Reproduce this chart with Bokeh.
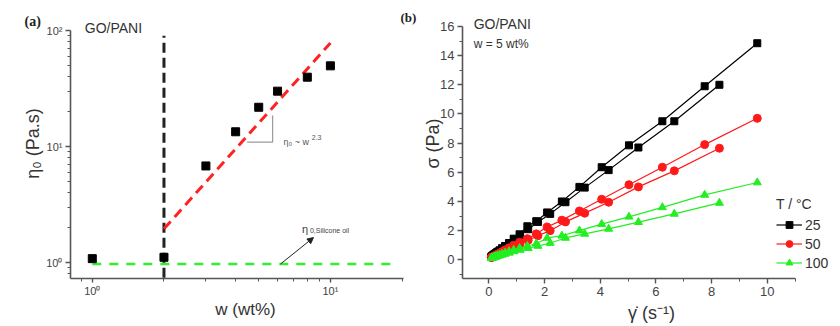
from bokeh.plotting import figure
from bokeh.layouts import row
from bokeh.models import FixedTicker, Label, Arrow, NormalHead, Legend, LegendItem, Title
from bokeh.embed import file_html
from bokeh.resources import INLINE

# ---------------- data: panel (a) ----------------
w_pct = [1, 2, 3, 4, 5, 6, 8, 10]
eta0 = [1.08, 1.11, 6.8, 13.4, 21.8, 30.0, 39.6, 49.6]
fit_w = [2, 10]
fit_eta = [1.95, 78.0]
crit_w = [2, 2]
crit_eta = [0.74, 90.0]
oil_w = [1, 18.8]
oil_eta = [0.97, 0.97]
slope_w = [4.47, 5.72, 5.72]
slope_eta = [10.9, 10.9, 18.5]
log_x_ticks = [1, 10]
log_y_ticks = [1, 10, 100]
log_tick_labels = {1: "10\u2070", 10: "10\u00b9", 100: "10\u00b2"}

# ---------------- data: panel (b) ----------------
rate_up = [9.64, 7.75, 6.23, 5.03, 4.05, 3.25, 2.62, 2.09, 1.70, 1.38, 1.10, 0.89,
           0.72, 0.58, 0.47, 0.38, 0.30, 0.24, 0.19, 0.15, 0.12, 0.10, 0.08]
rate_dn = [8.28, 6.66, 5.37, 4.30, 3.44, 2.75, 2.20, 1.76, 1.41, 1.12, 0.90, 0.73,
           0.58, 0.47, 0.38, 0.30, 0.24, 0.19, 0.15, 0.12, 0.10]
s25_up = [14.85, 11.9, 9.5, 7.85, 6.35, 5.0, 4.0, 3.25, 2.65, 2.3, 1.75, 1.45,
          1.15, 0.95, 0.8, 0.65, 0.55, 0.45, 0.38, 0.32, 0.27, 0.23, 0.2]
s25_dn = [12.0, 9.5, 7.7, 6.15, 4.95, 3.95, 3.15, 2.6, 2.1, 1.7, 1.4, 1.12,
          0.92, 0.75, 0.62, 0.5, 0.42, 0.35, 0.3, 0.25, 0.22]
s50_up = [9.7, 7.9, 6.35, 5.15, 4.15, 3.35, 2.72, 2.25, 1.78, 1.45, 1.2, 1.0,
          0.82, 0.68, 0.56, 0.46, 0.38, 0.32, 0.27, 0.23, 0.2, 0.18, 0.16]
s50_dn = [7.65, 6.1, 5.0, 3.95, 3.2, 2.6, 2.0, 1.65, 1.35, 1.1, 0.9, 0.75,
          0.62, 0.5, 0.42, 0.35, 0.3, 0.25, 0.22, 0.19, 0.17]
s100_up = [5.3, 4.45, 3.6, 2.95, 2.45, 2.0, 1.65, 1.5, 1.1, 0.95, 0.8, 0.68,
           0.58, 0.48, 0.4, 0.34, 0.28, 0.24, 0.2, 0.17, 0.15, 0.13, 0.11]
s100_dn = [3.9, 3.15, 2.58, 2.12, 1.78, 1.5, 1.15, 0.95, 0.8, 0.68, 0.58, 0.48,
           0.4, 0.34, 0.28, 0.24, 0.2, 0.17, 0.15, 0.13, 0.11]
temps = ["25", "50", "100"]
b_x_ticks = [0, 2, 4, 6, 8, 10]
b_y_ticks = [0, 2, 4, 6, 8, 10, 12, 14, 16]

FONT = "Liberation Sans"
AX = "#555555"
TXT = "#333333"


def style_axes(p, tick_size):
    p.xgrid.visible = False
    p.ygrid.visible = False
    p.outline_line_color = None
    for ax in p.axis:
        ax.axis_line_color = AX
        ax.axis_line_width = 1.6
        ax.major_tick_line_color = AX
        ax.minor_tick_line_color = AX
        ax.major_tick_line_width = 1.4
        ax.major_tick_out = 5
        ax.major_tick_in = 0
        ax.minor_tick_out = 3
        ax.minor_tick_in = 0
        ax.major_label_text_font = FONT
        ax.major_label_text_font_size = tick_size
        ax.major_label_text_color = "#444444"
        ax.axis_label_text_font = FONT
        ax.axis_label_text_font_size = "18px"
        ax.axis_label_text_font_style = "normal"
        ax.axis_label_text_color = TXT
        ax.axis_label_standoff = 0


# ================= panel (a) =================
p1 = figure(width=420, height=326, x_axis_type="log", y_axis_type="log",
            x_range=(0.81, 23.9), y_range=(0.728, 154.8),
            output_backend="svg", toolbar_location=None,
            min_border_left=70, min_border_right=0, min_border_top=8, min_border_bottom=48)
style_axes(p1, "11px")
p1.xaxis.bounds = (0.81, 20.3)
p1.yaxis.bounds = (0.728, 100)
p1.xaxis.ticker = FixedTicker(ticks=log_x_ticks,
                              minor_ticks=[0.9, 2, 3, 4, 5, 6, 7, 8, 9, 20])
p1.yaxis.ticker = FixedTicker(ticks=log_y_ticks,
                              minor_ticks=[0.8, 0.9, 2, 3, 4, 5, 6, 7, 8, 9,
                                           20, 30, 40, 50, 60, 70, 80, 90])
p1.xaxis.major_label_overrides = log_tick_labels
p1.yaxis.major_label_overrides = log_tick_labels
p1.xaxis.axis_label = "w (wt%)"
p1.yaxis.axis_label = "\u03b7\u2080 (Pa.s)"
p1.xaxis.major_tick_out = 4
p1.xaxis.major_label_standoff = 2
p1.xaxis.axis_label_text_font_size = "17px"
p1.yaxis.major_label_standoff = 3

p1.line(oil_w, oil_eta, line_color="#33ee33", line_width=2.5, line_dash="9 8")
p1.line(crit_w, crit_eta, line_color="#222222", line_width=3, line_dash="10 5")
p1.line(fit_w, fit_eta, line_color="#ff2222", line_width=3, line_dash="10 6")
p1.line(slope_w, slope_eta, line_color="#999999", line_width=1.2)
p1.scatter(w_pct, eta0, marker="square", size=8, fill_color="black", line_color="black")

p1.add_layout(Arrow(end=NormalHead(size=6, fill_color="#222222", line_color="#222222"),
                    x_start=6.17, y_start=0.97, x_end=8.49, y_end=1.64,
                    line_color="#222222", line_width=1))

p1.add_layout(Label(x=6.35, y=10.9, text="\u03b7\u2080 ~ w", text_font=FONT,
                    text_font_size="9px", text_color="#555555", text_baseline="middle"))
p1.add_layout(Label(x=8.35, y=11.9, text="2.3", text_font=FONT,
                    text_font_size="7px", text_color="#555555", text_baseline="middle"))
p1.add_layout(Label(x=7.6, y=1.95, text="\u03b7", text_font=FONT,
                    text_font_size="11px", text_color="#444444", text_baseline="middle"))
p1.add_layout(Label(x=8.2, y=1.87, text="0,Silicone oil", text_font=FONT,
                    text_font_size="7px", text_color="#444444", text_baseline="middle"))
p1.add_layout(Label(x=0.93, y=106, text="GO/PANI", text_font=FONT,
                    text_font_size="14px", text_color=TXT, text_baseline="middle"))
p1.add_layout(Label(x=19.7, y=129, text="(b)", text_font="Liberation Serif",
                    text_font_size="13px", text_font_style="bold", text_color="#222222",
                    text_baseline="middle"))
p1.add_layout(Title(text="(a)", align="left", offset=-46, standoff=-40,
                    text_font="Liberation Serif", text_font_size="14px",
                    text_font_style="bold", text_color="#222222"), "above")

# ================= panel (b) =================
p2 = figure(width=420, height=326, x_range=(-0.95, 12.63), y_range=(-1.28, 17.23),
            output_backend="svg", toolbar_location=None,
            min_border_left=42, min_border_right=0, min_border_top=8, min_border_bottom=48)
style_axes(p2, "13px")
p2.xaxis.bounds = (-0.95, 11)
p2.yaxis.bounds = (-1.28, 16)
p2.xaxis.ticker = FixedTicker(ticks=b_x_ticks, minor_ticks=[1, 3, 5, 7, 9, 11])
p2.yaxis.ticker = FixedTicker(ticks=b_y_ticks,
                              minor_ticks=[-1, 1, 3, 5, 7, 9, 11, 13, 15])
p2.xaxis.axis_label = "\u03b3\u0307 (s\u207b\u00b9)"
p2.yaxis.axis_label = "\u03c3 (Pa)"
p2.xaxis.major_label_standoff = 3
p2.yaxis.major_label_standoff = 3
p2.xaxis.axis_label_standoff = 4
p2.yaxis.axis_label_standoff = -6

series = [
    (s25_up, s25_dn, "black", "square", 7),
    (s50_up, s50_dn, "#ff1a1a", "circle", 8),
    (s100_up, s100_dn, "#22ee22", "triangle", 8),
]
items = []
for (up, dn, col, mk, sz), lab in zip(series, temps):
    l1 = p2.line(rate_up, up, line_color=col, line_width=1.2)
    m1 = p2.scatter(rate_up, up, marker=mk, size=sz, fill_color=col, line_color=col)
    p2.line(rate_dn, dn, line_color=col, line_width=1.2)
    p2.scatter(rate_dn, dn, marker=mk, size=sz, fill_color=col, line_color=col)
    items.append(LegendItem(label=lab, renderers=[l1, m1]))

legend = Legend(items=items, location=(314, 7), title="T / \u00b0C",
                background_fill_alpha=0, border_line_color=None,
                label_text_font=FONT, label_text_font_size="14px", label_text_color=TXT,
                title_text_font=FONT, title_text_font_size="14px", title_text_color=TXT,
                title_text_font_style="normal",
                glyph_width=26, glyph_height=17, label_height=17, spacing=2,
                padding=0, margin=0, label_standoff=3, title_standoff=4)
p2.add_layout(legend, "center")

p2.add_layout(Label(x=-0.55, y=16.15, text="GO/PANI", text_font=FONT,
                    text_font_size="14px", text_color=TXT, text_baseline="middle"))
p2.add_layout(Label(x=-0.55, y=14.8, text="w = 5 wt%", text_font=FONT,
                    text_font_size="12px", text_color=TXT, text_baseline="middle"))

layout = row(p1, p2)
open("out.html", "w").write(file_html(layout, INLINE))
